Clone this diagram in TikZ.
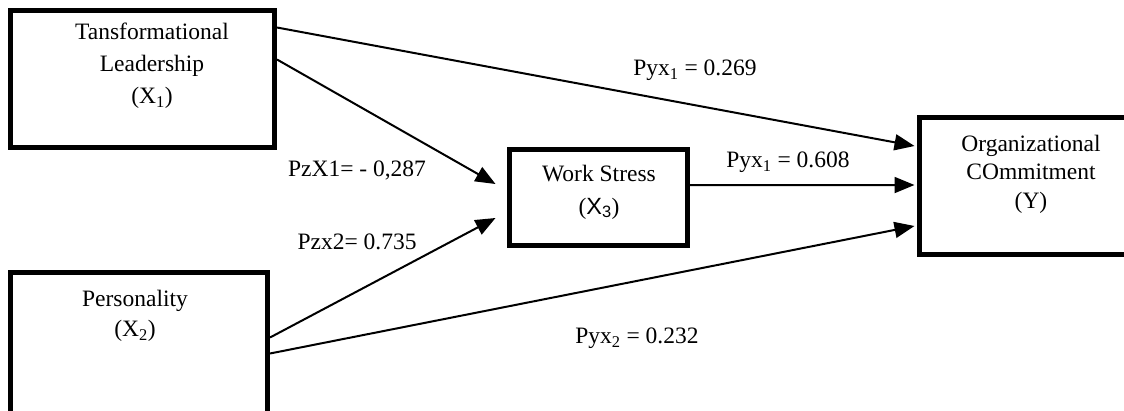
\documentclass[tikz,border=0pt]{standalone}
\usepackage{fontspec}
\setmainfont{Liberation Serif}
\newfontfamily\arialfont{Liberation Sans}
\usetikzlibrary{arrows.meta,calc}
\begin{document}
\begin{tikzpicture}[x=1pt,y=-1pt,
  box/.style={draw, line width=5pt, inner sep=0pt, fill=white},
  txt/.style={align=center, inner sep=0pt},
  lbl/.style={font=\fontsize{23.5}{28}\selectfont, inner sep=0pt},
  arr/.style={line width=2pt, -{Triangle[length=20pt,width=16pt]}}]
\useasboundingbox (0,0) rectangle (1124,410);
\node[box, minimum width=264pt, minimum height=137pt] (x1) at (142.5,79) {};
\node[box, minimum width=257pt, minimum height=140.5pt] (x2) at (139,342.75) {};
\node[box, minimum width=178.5pt, minimum height=96.5pt] (x3) at (598.25,197.25) {};
\node[box, minimum width=207.5pt, minimum height=137pt] (y) at (1023.25,186) {};
\node[txt, font=\fontsize{23.5}{32}\selectfont] (t1) at (152,66) {Tansformational\\Leadership\\(X\textsubscript{1})};
\node[txt, font=\fontsize{23.5}{30}\selectfont] (t2) at (135,316) {Personality\\(X\textsubscript{2})};
\node[txt, font=\fontsize{23.5}{33}\selectfont] (t3) at (599,192) {Work Stress\\({\arialfont X\textsubscript{3}})};
\node[txt, font=\fontsize{23.5}{28.5}\selectfont] (ty) at (1031,174) {Organizational\\COmmitment\\(Y)};
\draw[arr] ($(x1.north east)+(0,19.5)$) -- ($(y.west)+(-2.5,-40)$);
\draw[arr] ($(x1.north east)+(0,51.5)$) -- ($(x3.west)+(-11,-13.25)$);
\draw[arr] ($(x2.north east)+(0,67.5)$) -- ($(x3.west)+(-11,20.75)$);
\draw[arr] ($(x2.north east)+(0,83.5)$) -- ($(y.west)+(-2.5,40)$);
\draw[arr] ($(x3.west)+(178.5,-12)$) -- ($(y.west)+(-2.5,-1)$);
\node[lbl] (l1) at (695,70) {Pyx\textsubscript{1} = 0.269};
\node[lbl] (l2) at (788,162) {Pyx\textsubscript{1} = 0.608};
\node[lbl] (l3) at (357,170) {PzX1= - 0,287};
\node[lbl] (l4) at (357,242) {Pzx2= 0.735};
\node[lbl] (l5) at (637,338) {Pyx\textsubscript{2} = 0.232};
\end{tikzpicture}
\end{document}
